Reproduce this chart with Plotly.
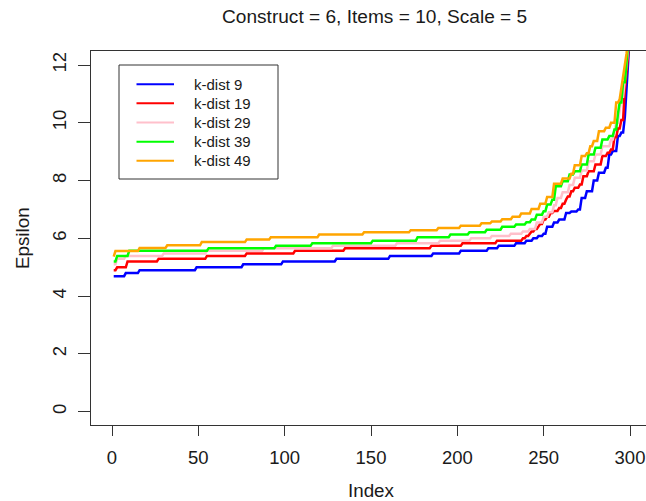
import numpy as np
import plotly.graph_objects as go

# ---- data (run starts and step values per series) ----
n_points = 300

blue_start = [1, 8, 16, 49, 76, 99, 130, 161, 186, 202, 218, 224, 234, 240, 244, 247, 250, 252, 256, 259,
              263, 266, 270, 272, 275, 279, 282, 286, 288, 290, 293, 295, 297, 298, 299, 300]
blue_value = [4.69, 4.80, 4.90, 5.00, 5.10, 5.20, 5.29, 5.39, 5.48, 5.57, 5.66, 5.74, 5.83, 5.92, 6.00, 6.08,
              6.16, 6.40, 6.55, 6.65, 6.88, 6.93, 7.00, 7.40, 7.63, 8.00, 8.27, 8.44, 8.90, 9.02, 9.54, 9.66,
              10.2, 11.05, 11.97, 13.2]

red_start = [1, 3, 9, 27, 55, 78, 106, 135, 185, 203, 223, 238, 240, 242, 243, 245, 247, 248, 250, 252, 254,
             256, 259, 261, 263, 264, 266, 268, 271, 273, 276, 280, 284, 287, 289, 291, 293, 295, 297, 298,
             299, 300]
red_value = [4.90, 5.00, 5.20, 5.29, 5.39, 5.48, 5.57, 5.66, 5.74, 5.83, 5.92, 6.00, 6.08, 6.16, 6.24, 6.32,
             6.42, 6.50, 6.65, 6.75, 6.88, 6.95, 7.05, 7.20, 7.34, 7.45, 7.63, 7.75, 7.86, 8.15, 8.32, 8.56,
             8.85, 8.96, 9.08, 9.50, 9.80, 10.1, 11.15, 11.8, 12.4, 14.0]

pink_start = [1, 3, 8, 30, 55, 88, 128, 165, 190, 208, 220, 231, 238, 242, 246, 250, 253, 256, 258, 261,
              265, 268, 272, 276, 280, 284, 289, 291, 292, 294, 295, 297, 298, 299, 300]
pink_value = [5.10, 5.29, 5.39, 5.48, 5.57, 5.66, 5.74, 5.83, 5.92, 6.00, 6.08, 6.16, 6.24, 6.32, 6.55, 6.75,
              6.90, 7.15, 7.40, 7.60, 7.85, 8.10, 8.35, 8.67, 8.90, 9.19, 9.42, 9.70, 10.0, 10.5, 10.9, 11.4,
              12.0, 12.6, 14.0]

green_start = [1, 3, 10, 56, 95, 116, 151, 177, 196, 207, 217, 226, 234, 240, 243, 246, 250, 252, 255, 257,
               261, 265, 268, 272, 276, 280, 284, 288, 291, 293, 294, 296, 298, 299, 300]
green_value = [5.20, 5.39, 5.57, 5.66, 5.74, 5.83, 5.92, 6.04, 6.13, 6.21, 6.30, 6.40, 6.48, 6.56, 6.65, 6.82,
               6.94, 7.17, 7.34, 7.80, 7.98, 8.21, 8.32, 8.56, 8.90, 9.14, 9.42, 9.54, 9.77, 10.3, 10.7, 11.4,
               12.2, 12.8, 14.5]

orange_start = [1, 2, 16, 32, 52, 78, 92, 120, 146, 173, 189, 202, 214, 220, 226, 232, 237, 243, 248, 252,
                256, 261, 266, 268, 272, 275, 277, 279, 282, 286, 289, 292, 294, 295, 296, 297, 298, 299, 300]
orange_value = [5.37, 5.56, 5.67, 5.76, 5.87, 5.96, 6.04, 6.13, 6.21, 6.28, 6.36, 6.44, 6.52, 6.58, 6.66, 6.75,
                6.86, 7.02, 7.20, 7.43, 7.89, 8.07, 8.24, 8.53, 8.85, 8.95, 9.19, 9.37, 9.71, 9.83, 10.0, 10.7,
                10.81, 11.2, 11.7, 12.1, 12.4, 13.0, 15.0]

series_names = ["k-dist 9", "k-dist 19", "k-dist 29", "k-dist 39", "k-dist 49"]
series_colors = ["#0000FF", "#FF0000", "#FFC0CB", "#00FF00", "#FFA500"]
x_ticks = [0, 50, 100, 150, 200, 250, 300]
y_ticks = [0, 2, 4, 6, 8, 10, 12]
title_text = "Construct = 6, Items = 10, Scale = 5"
x_title = "Index"
y_title = "Epsilon"


def expand(starts, values, n=n_points):
    idx = np.arange(1, n + 1)
    pos = np.searchsorted(np.array(starts), idx, side="right") - 1
    return idx, np.array(values)[pos]


series = [(blue_start, blue_value), (red_start, red_value), (pink_start, pink_value),
          (green_start, green_value), (orange_start, orange_value)]

FONT = "Liberation Sans, Arial, Helvetica, sans-serif"
AX = "#333333"
TXT = "#1a1a1a"

fig = go.Figure()
for (s, v), name, col in zip(series, series_names, series_colors):
    x, y = expand(s, v)
    fig.add_trace(go.Scatter(x=x, y=y, mode="lines", name=name,
                             line=dict(color=col, width=2.5), showlegend=False))

W, H = 646, 501
PL, PT, PR, PB = 91, 51, 646, 425          # plot-area edges on the page
L, T, R, B = PL, PT, W - PR, H - PB
PW, PH = PR - PL, PB - PT


def px(sx):
    return (sx - PL) / PW


def py(sy):
    return (PB - sy) / PH


shapes = []
annotations = [
    dict(text=title_text, xref="paper", yref="paper", x=px(374.5), y=py(16), showarrow=False,
         xanchor="center", yanchor="middle", font=dict(family=FONT, size=19.1, color=TXT)),
    dict(text=x_title, xref="paper", yref="paper", x=px(371), y=py(490), showarrow=False,
         xanchor="center", yanchor="middle", font=dict(family=FONT, size=18.8, color=TXT)),
    dict(text=y_title, xref="paper", yref="paper", textangle=-90, x=px(22), y=py(238), showarrow=False,
         xanchor="center", yanchor="middle", font=dict(family=FONT, size=18.8, color=TXT)),
]

# legend box (R-style)
shapes.append(dict(type="rect", xref="paper", yref="paper", x0=px(119), x1=px(278), y0=py(65), y1=py(179),
                   line=dict(color=AX, width=1), fillcolor="white", layer="above"))
row_y = [84.3, 103.3, 122.5, 141.7, 160.8]
for name, col, ry in zip(series_names, series_colors, row_y):
    shapes.append(dict(type="line", xref="paper", yref="paper", x0=px(136.5), x1=px(174), y0=py(ry), y1=py(ry),
                       line=dict(color=col, width=2), layer="above"))
    annotations.append(dict(text=name, xref="paper", yref="paper", x=px(191.5), y=py(ry), showarrow=False,
                            xanchor="left", yanchor="middle", font=dict(family=FONT, size=15, color=TXT)))

fig.update_layout(
    width=W, height=H,
    margin=dict(l=L, r=R, t=T, b=B, pad=0, autoexpand=False),
    paper_bgcolor="white", plot_bgcolor="white",
    font=dict(family=FONT, size=18, color=TXT),
    showlegend=False,
    hovermode=False,
    xaxis=dict(range=[-12.16, 309.26], tickmode="array", tickvals=x_ticks,
               ticks="outside", ticklen=10, tickwidth=1, tickcolor=AX,
               showline=True, linecolor=AX, linewidth=1, mirror=True,
               showgrid=False, zeroline=False, automargin=False,
               tickfont=dict(family=FONT, size=18.5, color=TXT),
               ticklabelstandoff=6),
    yaxis=dict(range=[-0.46, 12.485], tickmode="array", tickvals=y_ticks,
               ticks="outside", ticklen=12, tickwidth=1, tickcolor=AX,
               showline=True, linecolor=AX, linewidth=1, mirror=False,
               showgrid=False, zeroline=False, tickangle=-90, automargin=False,
               tickfont=dict(family=FONT, size=18.5, color=TXT),
               ticklabelstandoff=5),
    shapes=shapes,
    annotations=annotations,
)

# the page body otherwise has an 8px default margin; remove it so the figure sits at the window origin
fig.write_html("out.html", config={"displayModeBar": False},
               post_script="document.body.style.margin='0px';")
